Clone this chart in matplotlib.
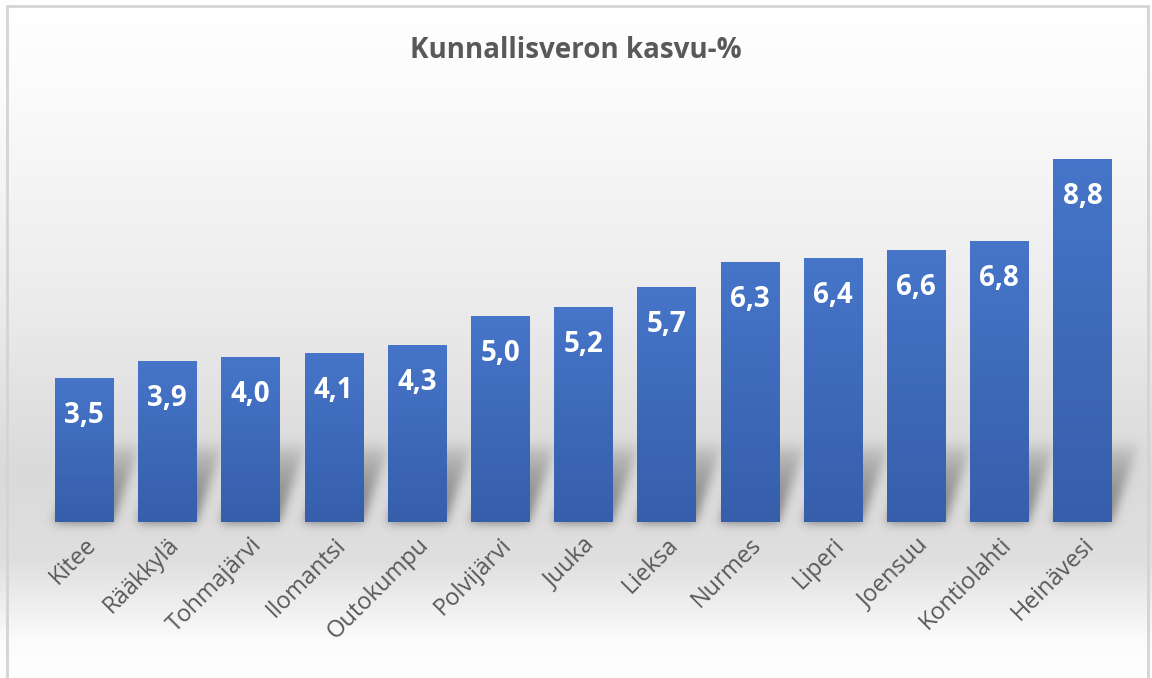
import numpy as np
import matplotlib
matplotlib.use("Agg")
from matplotlib import pyplot as plt
from matplotlib.patches import Rectangle

# data
kunnat = ["Kitee", "Rääkkylä", "Tohmajärvi", "Ilomantsi", "Outokumpu", "Polvijärvi",
          "Juuka", "Lieksa", "Nurmes", "Liperi", "Joensuu", "Kontiolahti", "Heinävesi"]
kasvu = [3.5, 3.9, 4.0, 4.1, 4.3, 5.0, 5.2, 5.7, 6.3, 6.4, 6.6, 6.8, 8.8]
otsikko = "Kunnallisveron kasvu-%"

W, H = 1152, 678
fig = plt.figure(figsize=(W / 100, H / 100), dpi=100)

# background gradient (white -> light gray -> white)
bg = fig.add_axes([0, 0, 1, 1], zorder=0)
bg.set_axis_off()
rows = np.arange(H)
stops_y = [0, 90, 300, 470, 560, 640, 678]
stops_v = [1.0, 0.985, 0.925, 0.855, 0.875, 0.985, 1.0]
col = np.interp(rows, stops_y, stops_v)
img = np.repeat(col[:, None], W, axis=1)
bg.imshow(np.dstack([img, img, img]), extent=(0, W, H, 0), aspect="auto")
bg.set_xlim(0, W)
bg.set_ylim(H, 0)

ax = fig.add_axes([0.0368, 0.230, 0.939, 0.609], zorder=2)
ax.patch.set_alpha(0)
x = np.arange(len(kunnat))
bars = ax.bar(x, kasvu, width=0.7, color="#4472c4", zorder=2)
ax.set_xlim(-0.5, len(kunnat) - 0.5)
ax.set_ylim(0, 10)
for s in ax.spines.values():
    s.set_visible(False)
ax.set_yticks([])
ax.tick_params(axis="x", length=0, pad=8)
ax.set_xticks(x)
ax.set_xticklabels(kunnat, rotation=45, ha="right", rotation_mode="anchor",
                   fontsize=17, color="#595959", family="Open Sans")

# vertical gradient inside bars
grad = np.linspace(0, 1, 256)[:, None]
top_c = np.array([0x46, 0x75, 0xc9]) / 255
bot_c = np.array([0x36, 0x5e, 0xab]) / 255
gimg = top_c * (1 - grad[..., None]) + bot_c * grad[..., None]
for b in bars:
    im = ax.imshow(gimg, extent=(b.get_x(), b.get_x() + b.get_width(), 0, b.get_height()),
                   aspect="auto", origin="upper", zorder=2.5)
    im.set_clip_path(b)

# value labels
for xi, v in zip(x, kasvu):
    ax.annotate(f"{v:.1f}".replace(".", ","), (xi, v), xytext=(0, -27),
                textcoords="offset points", ha="center", va="center",
                color="white", fontsize=20, fontweight="bold", family="Open Sans",
                zorder=4)

# blurred shadows behind bars, computed from bar positions
fig.canvas.draw()
mask = np.zeros((H, W))
for b in bars:
    (x0, y0), (x1, _) = ax.transData.transform([(b.get_x(), 0), (b.get_x() + b.get_width(), 0)])
    ybase = H - y0
    hgt = 80
    dx = 28
    for k in range(hgt):
        yy = int(ybase - k)
        t = k / hgt
        a = int(x0 + dx * t)
        c = int(x1 + dx * t)
        mask[yy, a:c] = (1 - t) ** 0.6
def blur(m, r):
    ker = np.exp(-0.5 * (np.arange(-3 * r, 3 * r + 1) / r) ** 2)
    ker /= ker.sum()
    m = np.apply_along_axis(lambda v: np.convolve(v, ker, mode="same"), 1, m)
    m = np.apply_along_axis(lambda v: np.convolve(v, ker, mode="same"), 0, m)
    return m
mask = blur(mask, 5)
shadow = np.zeros((H, W, 4))
shadow[..., :3] = 0.35
shadow[..., 3] = np.clip(mask, 0, 1) * 0.75
sh = fig.add_axes([0, 0, 1, 1], zorder=1)
sh.set_axis_off()
sh.imshow(shadow, extent=(0, W, H, 0), aspect="auto")
sh.set_xlim(0, W)
sh.set_ylim(H, 0)

# chart frame
frame = Rectangle((7 / W, -0.05), (W - 4 - 7) / W, 1.05 - 6 / H, transform=fig.transFigure,
                  fill=False, edgecolor="#d4d4d4", linewidth=2, zorder=5)
fig.patches.append(frame)

fig.text(0.5, 1 - 50 / H, otsikko, ha="center", va="center", fontsize=20,
         color="#595959", fontweight="bold", family="Open Sans")

fig.savefig("out.png", dpi=100)
